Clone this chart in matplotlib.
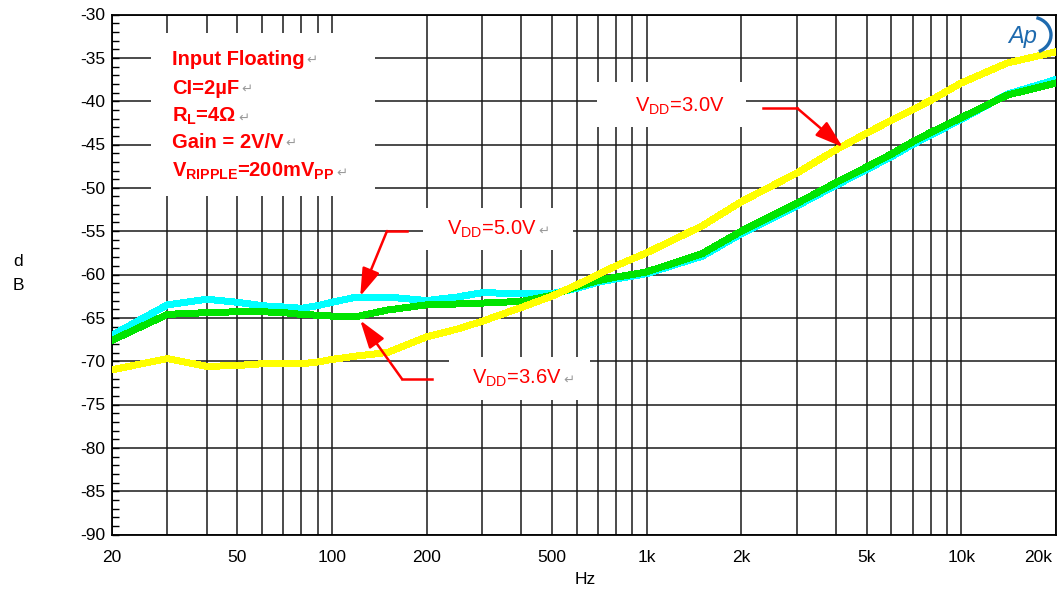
import matplotlib
matplotlib.use("Agg")
import matplotlib.pyplot as plt
from matplotlib.patches import Rectangle, Arc
from matplotlib.lines import Line2D
from matplotlib.transforms import IdentityTransform, ScaledTranslation
from matplotlib.ticker import FixedLocator, NullFormatter, MultipleLocator

plt.rcParams['font.family'] = ['Liberation Sans', 'DejaVu Sans']
plt.rcParams['axes.unicode_minus'] = False

W, H = 1060, 599

# --- PSRR vs frequency, three supply voltages ---
freq = [20, 30, 40, 50, 60, 70, 80, 90, 100, 120, 150, 200, 250, 300, 400, 500,
        600, 700, 800, 900, 1000, 1500, 2000, 3000, 4000, 5000, 6000, 7000, 8000,
        10000, 14000, 20000]
psrr_50 = [-67.0, -63.5, -62.85, -63.2, -63.6, -63.75, -63.9, -63.6, -63.2, -62.6,
           -62.6, -63.0, -62.6, -62.1, -62.2, -62.2, -61.6, -60.9, -60.5, -60.2,
           -59.9, -57.9, -55.3, -52.1, -49.7, -47.9, -46.4, -45.0, -43.9, -42.1,
           -39.2, -37.5]
psrr_36 = [-67.6, -64.6, -64.4, -64.3, -64.3, -64.4, -64.6, -64.7, -64.8, -64.85,
           -64.1, -63.5, -63.4, -63.3, -63.1, -62.4, -61.4, -60.7, -60.3, -60.0,
           -59.7, -57.6, -55.0, -51.8, -49.4, -47.6, -46.1, -44.7, -43.6, -41.9,
           -39.3, -37.9]
psrr_30 = [-71.0, -69.7, -70.6, -70.5, -70.3, -70.3, -70.3, -70.1, -69.8, -69.4,
           -69.0, -67.2, -66.3, -65.4, -63.8, -62.5, -61.2, -60.0, -59.0, -58.2,
           -57.5, -54.4, -51.6, -48.3, -45.6, -43.7, -42.2, -41.0, -39.9, -37.9,
           -35.6, -34.3]

x_ticks = [20, 50, 100, 200, 500, 1000, 2000, 5000, 10000, 20000]
x_labels = ['20', '50', '100', '200', '500', '1k', '2k', '5k', '10k', '20k']
x_grid = [30, 40, 60, 70, 80, 90, 300, 400, 600, 700, 800, 900,
          3000, 4000, 6000, 7000, 8000, 9000]

notes = ['Input Floating', 'CI=2µF', r'R$_\mathregular{L}$=4Ω', 'Gain = 2V/V',
         r'V$_\mathregular{RIPPLE}$=200mV$_\mathregular{PP}$']

fig = plt.figure(figsize=(W / 100, H / 100), dpi=100)
ax = fig.add_axes([112 / W, 1 - 534.5 / H, 944 / W, 520 / H])

ax.semilogx(freq, psrr_50, color='#00FFFF', lw=4.3, antialiased=False, zorder=3)
ax.semilogx(freq, psrr_36, color='#00E400', lw=4.3, antialiased=False, zorder=4)
ax.semilogx(freq, psrr_30, color='#FFFF00', lw=4.3, antialiased=False, zorder=5)

ax.set_xlim(20, 20000)
ax.set_ylim(-90, -30)
ax.xaxis.set_major_locator(FixedLocator(x_ticks))
ax.xaxis.set_major_formatter(plt.FixedFormatter(x_labels))
ax.xaxis.set_minor_locator(FixedLocator(x_grid))
ax.xaxis.set_minor_formatter(NullFormatter())
ax.yaxis.set_major_locator(MultipleLocator(5))
ax.yaxis.set_minor_locator(MultipleLocator(1))

ax.set_axisbelow(True)
ax.grid(True, axis='x', which='both', color='#1a1a1a', lw=1.1)
ax.grid(True, axis='y', which='major', color='#1a1a1a', lw=1.1)
ax.tick_params(axis='x', which='both', length=0, pad=11, labelsize=12.5)
ax.tick_params(axis='y', which='both', direction='in', length=5, width=1,
               pad=5, labelsize=12.5)
for sp in ax.spines.values():
    sp.set_linewidth(1.3)
    sp.set_color('black')

# last frequency label sits flush against the right edge
last = ax.get_xticklabels()[-1]
last.set_horizontalalignment('right')
last.set_transform(last.get_transform() + ScaledTranslation(-3 / 72, 0, fig.dpi_scale_trans))

fig.text(585 / W, 1 - 580 / H, 'Hz', ha='center', va='center', fontsize=12.5)
fig.text(18 / W, 1 - 262 / H, 'd', ha='center', va='center', fontsize=12.5)
fig.text(18 / W, 1 - 285 / H, 'B', ha='center', va='center', fontsize=12.5)


def blank(x0, y0, x1, y1):
    # white patch that hides the grid behind a label
    r = Rectangle((x0 / W, 1 - y1 / H), (x1 - x0) / W, (y1 - y0) / H,
                  transform=fig.transFigure, facecolor='white',
                  edgecolor='none', zorder=1)
    ax.add_patch(r)


blank(151, 33, 375, 196)
blank(423, 208, 573, 250)
blank(449, 357, 590, 400)
blank(597, 82, 746, 127)

RED = '#FF0000'
GREY = '#9a9a9a'


def return_mark(t):
    ax.annotate('↵', xy=(1, 0.12), xycoords=t, xytext=(1.5, 0),
                textcoords='offset points', va='bottom', ha='left',
                color=GREY, fontsize=9.5, family='DejaVu Sans',
                annotation_clip=False)


# condition block, one line at a time
for s, base in zip(notes, [65, 94.3, 121.7, 148.3, 176.7]):
    t = fig.text(172 / W, 1 - base / H, s, color=RED, fontsize=14.5,
                 fontweight='bold', va='baseline')
    return_mark(t)


def vdd_label(x, base, volts, ret=True):
    t = fig.text(x / W, 1 - base / H, r'V$_\mathregular{DD}$=' + volts,
                 color=RED, fontsize=14.5, va='baseline')
    if ret:
        return_mark(t)


vdd_label(447, 235, '5.0V')
vdd_label(472, 384, '3.6V')
vdd_label(635, 111.7, '3.0V', ret=False)


def pointer(tail, elbow, tip):
    # tail/elbow in image pixels, tip on the curve in data units
    ln = Line2D([tail[0], elbow[0]], [H - tail[1], H - elbow[1]],
                transform=IdentityTransform(), color=RED, lw=1.8)
    fig.add_artist(ln)
    ax.annotate('', xy=tip, xycoords='data',
                xytext=(elbow[0], H - elbow[1]), textcoords='figure pixels',
                arrowprops=dict(arrowstyle='-|>,head_length=1.7,head_width=0.55',
                                mutation_scale=10, color=RED, lw=1.8,
                                shrinkA=0, shrinkB=0),
                annotation_clip=False, zorder=6)


pointer((407, 231), (387, 231), (123, -62.5))
pointer((432, 379), (402, 379), (123, -65.3))
pointer((763, 108), (797, 108), (4200, -45.3))

# Ap logo, top right corner
LOGO = '#1E6AAE'
fig.text(1023 / W, 1 - 37 / H, 'Ap', color=LOGO, fontsize=17, style='italic',
         ha='center', va='center')
fig.add_artist(Arc((1031 / W, 1 - 35 / H), 40 / W, 36 / H, theta1=-75,
                   theta2=80, transform=fig.transFigure, color=LOGO, lw=2.4))

fig.savefig('out.png', dpi=100)
